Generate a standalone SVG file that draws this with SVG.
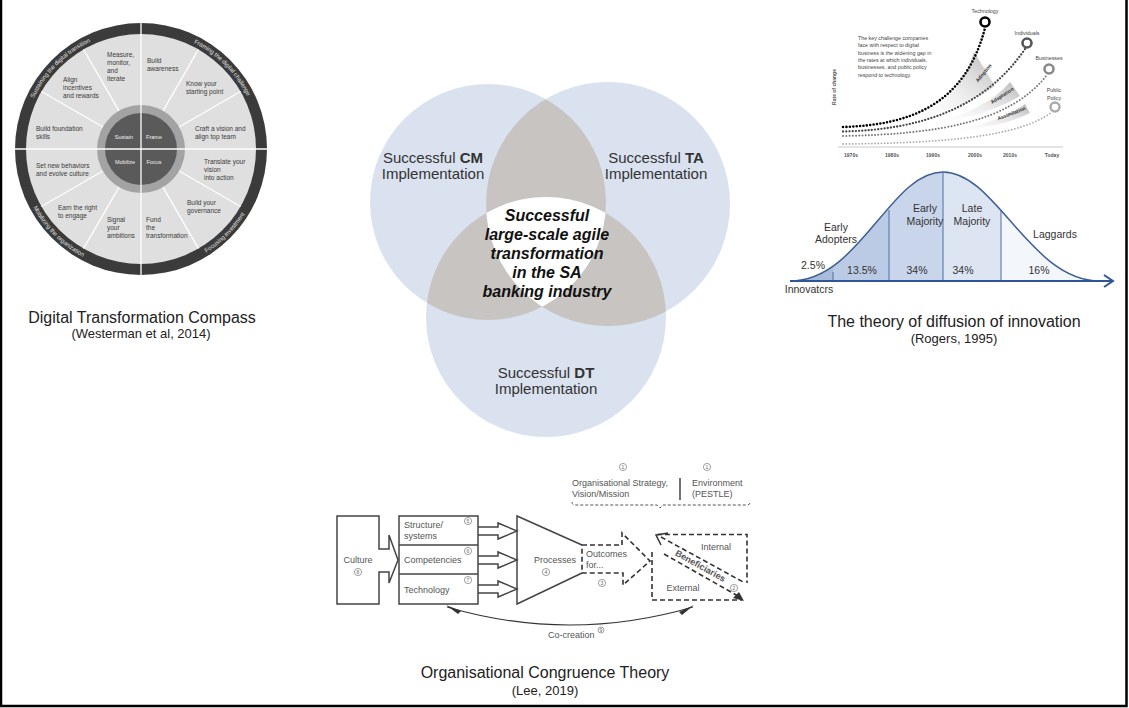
<svg xmlns="http://www.w3.org/2000/svg" width="1129" height="708" viewBox="0 0 1129 708">
<defs>
<style>
text{font-family:"Liberation Sans",Arial,sans-serif}
.seg{font-size:6.5px;fill:#3a3a3a}
.ring{font-size:6px;fill:#e2e2e2}
.inn{font-size:5.5px;fill:#f0f0f0;text-anchor:middle}
.cap{font-size:16px;fill:#222;text-anchor:middle}
.sub{font-size:13px;fill:#222;text-anchor:middle}
.venn{font-size:15px;fill:#333;text-anchor:middle}
.ctr{font-size:16px;font-weight:bold;font-style:italic;fill:#111;text-anchor:middle}
.ch{font-size:5.3px;fill:#444}
.ax{font-size:5px;font-weight:bold;fill:#555;text-anchor:middle}
.wl{font-size:5px;font-weight:bold;fill:#333;text-anchor:middle}
.bl{font-size:10.5px;fill:#333;text-anchor:middle}
.oc{font-size:9px;fill:#555}
.num{font-size:5px;fill:#666;text-anchor:middle}
.nc{fill:none;stroke:#777;stroke-width:0.7}
.dash{fill:none;stroke:#333;stroke-width:1.6;stroke-dasharray:5 3}
.solid{fill:none;stroke:#444;stroke-width:1.5}
.div{stroke:#fff;stroke-width:1.3}
.bdiv{stroke:#4a6fa5;stroke-width:1}
</style>
<clipPath id="cL"><circle cx="488" cy="202" r="118"/></clipPath>
<clipPath id="cR"><circle cx="608" cy="204" r="122"/></clipPath>
<clipPath id="bell"><path d="M790,281 C860,281 890,172 943,172 C996,172 1030,281 1100,281 Z"/></clipPath>
<linearGradient id="wg" x1="0" y1="1" x2="1" y2="0">
<stop offset="0" stop-color="#ffffff" stop-opacity="0"/>
<stop offset="1" stop-color="#b8b8b8"/>
</linearGradient>
<path id="arcTL" d="M22.5,149 A118.5,118.5 0 0 1 141,30.5"/>
<path id="arcTR" d="M141,30.5 A118.5,118.5 0 0 1 259.5,149"/>
<path id="arcBL" d="M18.5,149 A122.5,122.5 0 0 0 141,271.5"/>
<path id="arcBR" d="M141,271.5 A122.5,122.5 0 0 0 263.5,149"/>
</defs>

<rect width="1129" height="708" fill="#fff"/>
<path d="M1,0 V706 H1126.5 V0" fill="none" stroke="#000" stroke-width="2.5"/>

<!-- Digital Transformation Compass -->
<g id="compass">
<circle cx="141" cy="149" r="126" fill="#3b3b3b"/>
<circle cx="141" cy="149" r="115" fill="#dfdfdf"/>
<circle cx="141" cy="149" r="44" fill="#a3a3a3"/>
<circle cx="141" cy="149" r="36" fill="#5a5a5a"/>
<line class="div" x1="141" y1="23" x2="141" y2="275"/>
<line class="div" x1="15" y1="149" x2="267" y2="149"/>
<line class="div" x1="179.1" y1="171" x2="240.6" y2="206.5"/>
<line class="div" x1="163" y1="187.1" x2="198.5" y2="248.6"/>
<line class="div" x1="119" y1="187.1" x2="83.5" y2="248.6"/>
<line class="div" x1="102.9" y1="171" x2="41.4" y2="206.5"/>
<line class="div" x1="102.9" y1="127" x2="41.4" y2="91.5"/>
<line class="div" x1="119" y1="110.9" x2="83.5" y2="49.4"/>
<line class="div" x1="163" y1="110.9" x2="198.5" y2="49.4"/>
<line class="div" x1="179.1" y1="127" x2="240.6" y2="91.5"/>
<text class="ring"><textPath href="#arcTL" startOffset="52.4">Sustaining</textPath></text>
<text class="ring"><textPath href="#arcTL" startOffset="82.1">the</textPath></text>
<text class="ring"><textPath href="#arcTL" startOffset="92.1">digital</textPath></text>
<text class="ring"><textPath href="#arcTL" startOffset="109.4">transition</textPath></text>
<text class="ring"><textPath href="#arcTR" startOffset="54.7">Framing</textPath></text>
<text class="ring"><textPath href="#arcTR" startOffset="78.4">the</textPath></text>
<text class="ring"><textPath href="#arcTR" startOffset="88.4">digital</textPath></text>
<text class="ring"><textPath href="#arcTR" startOffset="105.7">challenge</textPath></text>
<text class="ring"><textPath href="#arcBL" startOffset="60.7">Mobilizing</textPath></text>
<text class="ring"><textPath href="#arcBL" startOffset="89">the organization</textPath></text>
<text class="ring"><textPath href="#arcBR" startOffset="68.7">Focusing</textPath></text>
<text class="ring"><textPath href="#arcBR" startOffset="94.7">investment</textPath></text>
<text class="inn" x="124" y="139">Sustain</text>
<text class="inn" x="154" y="139">Frame</text>
<text class="inn" x="125" y="164">Mobilize</text>
<text class="inn" x="154" y="164">Focus</text>
<text class="seg" x="107" y="57">Measure,</text>
<text class="seg" x="107" y="65">monitor,</text>
<text class="seg" x="107" y="73">and</text>
<text class="seg" x="107" y="81">iterate</text>
<text class="seg" x="63" y="81.5">Align</text>
<text class="seg" x="63" y="89.5">incentives</text>
<text class="seg" x="63" y="97.5">and rewards</text>
<text class="seg" x="36" y="131">Build foundation</text>
<text class="seg" x="36" y="139">skills</text>
<text class="seg" x="147" y="63">Build</text>
<text class="seg" x="147" y="71">awareness</text>
<text class="seg" x="186" y="86">Know your</text>
<text class="seg" x="186" y="94">starting point</text>
<text class="seg" x="195" y="131">Craft a vision and</text>
<text class="seg" x="195" y="139">align top team</text>
<text class="seg" x="204" y="164">Translate your</text>
<text class="seg" x="204" y="172">vision</text>
<text class="seg" x="204" y="180">into action</text>
<text class="seg" x="187" y="205">Build your</text>
<text class="seg" x="187" y="213">governance</text>
<text class="seg" x="146" y="222">Fund</text>
<text class="seg" x="146" y="230">the</text>
<text class="seg" x="146" y="238">transformation</text>
<text class="seg" x="36" y="168">Set new behaviors</text>
<text class="seg" x="36" y="176">and evolve culture</text>
<text class="seg" x="58" y="210">Earn the right</text>
<text class="seg" x="58" y="218">to engage</text>
<text class="seg" x="107" y="222">Signal</text>
<text class="seg" x="107" y="230">your</text>
<text class="seg" x="107" y="238">ambitions</text>
<text class="cap" x="142" y="323">Digital Transformation Compass</text>
<text class="sub" x="141" y="338">(Westerman et al, 2014)</text>
</g>

<!-- Venn -->
<g id="venn">
<circle cx="488" cy="202" r="118" fill="#dae2f0"/>
<circle cx="608" cy="204" r="122" fill="#dae2f0"/>
<circle cx="546" cy="317" r="120" fill="#dae2f0"/>
<g clip-path="url(#cL)"><circle cx="608" cy="204" r="122" fill="#c8c4c2"/><circle cx="546" cy="317" r="120" fill="#c8c4c2"/></g>
<g clip-path="url(#cR)"><circle cx="546" cy="317" r="120" fill="#c8c4c2"/></g>
<g clip-path="url(#cL)"><g clip-path="url(#cR)"><circle cx="546" cy="317" r="120" fill="#ffffff"/></g></g>
<text class="venn" x="433" y="163">Successful <tspan font-weight="bold">CM</tspan></text>
<text class="venn" x="433" y="179">Implementation</text>
<text class="venn" x="656" y="163">Successful <tspan font-weight="bold">TA</tspan></text>
<text class="venn" x="656" y="179">Implementation</text>
<text class="venn" x="546" y="378">Successful <tspan font-weight="bold">DT</tspan></text>
<text class="venn" x="546" y="394">Implementation</text>
<text class="ctr" x="547" y="221">Successful</text>
<text class="ctr" x="547" y="240">large-scale agile</text>
<text class="ctr" x="547" y="259">transformation</text>
<text class="ctr" x="547" y="278">in the SA</text>
<text class="ctr" x="547" y="297">banking industry</text>
</g>

<!-- Rate of change chart -->
<g id="chart">
<line x1="838" y1="147" x2="1063" y2="147" stroke="#bbb" stroke-width="0.8"/>
<text class="ax" transform="translate(836,87) rotate(-90)">Rate of change</text>
<text class="ax" x="851" y="157">1970s</text>
<text class="ax" x="892" y="157">1980s</text>
<text class="ax" x="933" y="157">1990s</text>
<text class="ax" x="975" y="157">2000s</text>
<text class="ax" x="1010" y="157">2010s</text>
<text class="ax" x="1052" y="157">Today</text>
<path d="M905,121 Q958,106 974,52 L995,86 Q962,110 905,121 Z" fill="url(#wg)"/>
<path d="M925,125 Q985,112 1010,82 L1020,96 Q985,117 925,125 Z" fill="url(#wg)"/>
<path d="M945,132 Q1000,123 1025,104 L1030,113 Q1000,128 945,132 Z" fill="url(#wg)"/>
<text class="wl" transform="translate(985,74) rotate(-50)">Adoption</text>
<text class="wl" transform="translate(1003,97) rotate(-33)">Adaptation</text>
<text class="wl" transform="translate(1012,115) rotate(-21)">Assimilation</text>
<path d="M843,144 C950,143 1020,136 1052,112" fill="none" stroke="#aaa" stroke-width="1.8" stroke-linecap="round" stroke-dasharray="0 3.2"/>
<path d="M843,136 C940,134 1010,122 1047,75" fill="none" stroke="#777" stroke-width="2" stroke-linecap="round" stroke-dasharray="0 3.2"/>
<path d="M843,131.5 C920,130 985,108 1025,49" fill="none" stroke="#444" stroke-width="2.3" stroke-linecap="round" stroke-dasharray="0 3.2"/>
<path d="M843,127 C910,125 965,105 985,28" fill="none" stroke="#000" stroke-width="2.6" stroke-linecap="round" stroke-dasharray="0 3.4"/>
<circle cx="985" cy="22" r="4.5" fill="none" stroke="#000" stroke-width="2.6"/>
<circle cx="1027" cy="43" r="4.5" fill="none" stroke="#555" stroke-width="2.6"/>
<circle cx="1049" cy="69" r="4.5" fill="none" stroke="#888" stroke-width="2.6"/>
<circle cx="1055" cy="107" r="4.5" fill="none" stroke="#aaa" stroke-width="2.4"/>
<text class="ch" x="985" y="13" text-anchor="middle">Technology</text>
<text class="ch" x="1027" y="35" text-anchor="middle">Individuals</text>
<text class="ch" x="1049" y="60" text-anchor="middle">Businesses</text>
<text class="ch" x="1054" y="92" text-anchor="middle">Public</text>
<text class="ch" x="1054" y="100" text-anchor="middle">Policy</text>
<text class="ch" x="858" y="40">The key challenge companies</text>
<text class="ch" x="858" y="47.3">face with respect to digital</text>
<text class="ch" x="858" y="54.6">business is the widening gap in</text>
<text class="ch" x="858" y="61.9">the rates at which individuals,</text>
<text class="ch" x="858" y="69.2">businesses, and public policy</text>
<text class="ch" x="858" y="76.5">respond to technology.</text>
</g>

<!-- Diffusion of innovation -->
<g id="bellcurve">
<g clip-path="url(#bell)">
<rect x="785" y="165" width="48" height="120" fill="#a9bcdc"/>
<rect x="833" y="165" width="56" height="120" fill="#bccbe5"/>
<rect x="889" y="165" width="54" height="120" fill="#c9d5ea"/>
<rect x="943" y="165" width="58" height="120" fill="#dde5f2"/>
<rect x="1001" y="165" width="110" height="120" fill="#f3f6fb"/>
</g>
<path d="M790,281 C860,281 890,172 943,172 C996,172 1030,281 1100,281" fill="none" stroke="#3d5f96" stroke-width="1.5"/>
<line class="bdiv" x1="833" y1="272" x2="833" y2="281"/>
<line class="bdiv" x1="889" y1="210" x2="889" y2="281"/>
<line class="bdiv" x1="943" y1="172" x2="943" y2="281"/>
<line class="bdiv" x1="1001" y1="211" x2="1001" y2="281"/>
<line x1="790" y1="281" x2="1112" y2="281" stroke="#2e5597" stroke-width="2"/>
<polyline points="1104,275 1113,281 1104,287" fill="none" stroke="#2e5597" stroke-width="2"/>
<text class="bl" x="836" y="231">Early</text>
<text class="bl" x="836" y="243">Adopters</text>
<text class="bl" x="925" y="212">Early</text>
<text class="bl" x="925" y="225">Majority</text>
<text class="bl" x="972" y="212">Late</text>
<text class="bl" x="972" y="225">Majority</text>
<text class="bl" x="1055" y="238">Laggards</text>
<text class="bl" x="813" y="269" font-size="9.5">2.5%</text>
<text class="bl" x="862" y="274" font-size="9.5">13.5%</text>
<text class="bl" x="917" y="274" font-size="9.5">34%</text>
<text class="bl" x="963" y="274" font-size="9.5">34%</text>
<text class="bl" x="1039" y="274" font-size="9.5">16%</text>
<text class="bl" x="809" y="293">Innovatcrs</text>
<text class="cap" x="954" y="327">The theory of diffusion of innovation</text>
<text class="sub" x="954" y="343">(Rogers, 1995)</text>
</g>

<!-- Organisational Congruence -->
<g id="culture">
<path class="solid" d="M337,516 H379 V549 H389 V535 L398,560 L389,583 V572 H379 V604 H337 Z"/>
<text class="oc" x="358" y="563" text-anchor="middle">Culture</text>
<circle class="nc" cx="358" cy="572" r="3.6"/><text class="num" x="358" y="573.8">8</text>
</g>
<g id="blocks">
<rect class="solid" x="399" y="516" width="79" height="88"/>
<line class="solid" x1="399" y1="545" x2="478" y2="545"/>
<line class="solid" x1="399" y1="574" x2="478" y2="574"/>
<text class="oc" x="404" y="528">Structure/</text>
<text class="oc" x="404" y="539">systems</text>
<text class="oc" x="404" y="563">Competencies</text>
<text class="oc" x="404" y="593">Technology</text>
<circle class="nc" cx="468" cy="521" r="3.6"/><text class="num" x="468" y="522.8">5</text>
<circle class="nc" cx="468" cy="551" r="3.6"/><text class="num" x="468" y="552.8">6</text>
<circle class="nc" cx="468" cy="580" r="3.6"/><text class="num" x="468" y="581.8">7</text>
</g>
<g id="connectors">
<path class="solid" d="M478,527 H498 V523 L517,531 L498,539 V535 H478"/>
<path class="solid" d="M478,556 H498 V552 L517,560 L498,568 V564 H478"/>
<path class="solid" d="M478,585 H498 V581 L517,589 L498,597 V593 H478"/>
<path d="M447,607 Q570,643 693,607" fill="none" stroke="#333" stroke-width="1.1"/>
<path d="M446,605 L461,611 L458,614 Z" fill="#333"/>
<path d="M694,605 L679,612 L682,615 Z" fill="#333"/>
</g>
<g id="processes">
<path class="solid" d="M582,545 L517,516 V604 L582,573"/>
<text class="oc" x="534" y="563">Processes</text>
<circle class="nc" cx="546" cy="572" r="3.6"/><text class="num" x="546" y="573.8">4</text>
</g>
<g id="outcomes">
<path class="dash" d="M582,545 H622 V533 L650,561 L623,585 V573 H582 Z"/>
<text class="oc" x="586" y="557">Outcomes</text>
<text class="oc" x="586" y="568">for...</text>
<circle class="nc" cx="602" cy="583" r="3.6"/><text class="num" x="602" y="584.8">3</text>
</g>
<g id="beneficiaries">
<path class="dash" d="M657,534.5 H747 V583"/>
<path class="dash" d="M661,537 L745,583"/>
<path class="dash" d="M652,552 V600 H742"/>
<path class="dash" d="M664,554 L738,596"/>
<path d="M668,533 L656,535 L661,545" fill="none" stroke="#333" stroke-width="1.5"/>
<path d="M744,601 L733,598 L739,592 Z" fill="#333"/>
<text class="oc" x="716" y="550" text-anchor="middle">Internal</text>
<text class="oc" x="683" y="591" text-anchor="middle">External</text>
<text class="oc" font-size="10" font-weight="bold" fill="#444" text-anchor="middle" transform="translate(699,568.5) rotate(29)">Beneficiaries</text>
<circle class="nc" cx="734" cy="588" r="3.6"/><text class="num" x="734" y="589.8">2</text>
</g>
<g id="context">
<circle class="nc" cx="623" cy="467" r="3.6"/><text class="num" x="623" y="468.8">1</text>
<circle class="nc" cx="707" cy="467" r="3.6"/><text class="num" x="707" y="468.8">1</text>
<text class="oc" x="572" y="486" font-size="8.5">Organisational Strategy,</text>
<text class="oc" x="572" y="497" font-size="8.5">Vision/Mission</text>
<text class="oc" x="692" y="486" font-size="8.5">Environment</text>
<text class="oc" x="692" y="497" font-size="8.5">(PESTLE)</text>
<line x1="680" y1="478" x2="680" y2="500" stroke="#444" stroke-width="1.5"/>
<path d="M572,502 Q572,505 575,505 H657 L660,508 L663,505 H747 Q750,505 750,502" fill="none" stroke="#555" stroke-width="1" stroke-dasharray="3 2"/>
</g>
<g id="cocreation">
<text class="oc" x="548" y="638" font-size="8.5">Co-creation</text>
<circle class="nc" cx="601" cy="630" r="3"/><text class="num" x="601" y="631.6" font-size="4.5">9</text>
</g>
<text class="cap" x="545" y="678">Organisational Congruence Theory</text>
<text class="sub" x="545" y="695">(Lee, 2019)</text>
</svg>
